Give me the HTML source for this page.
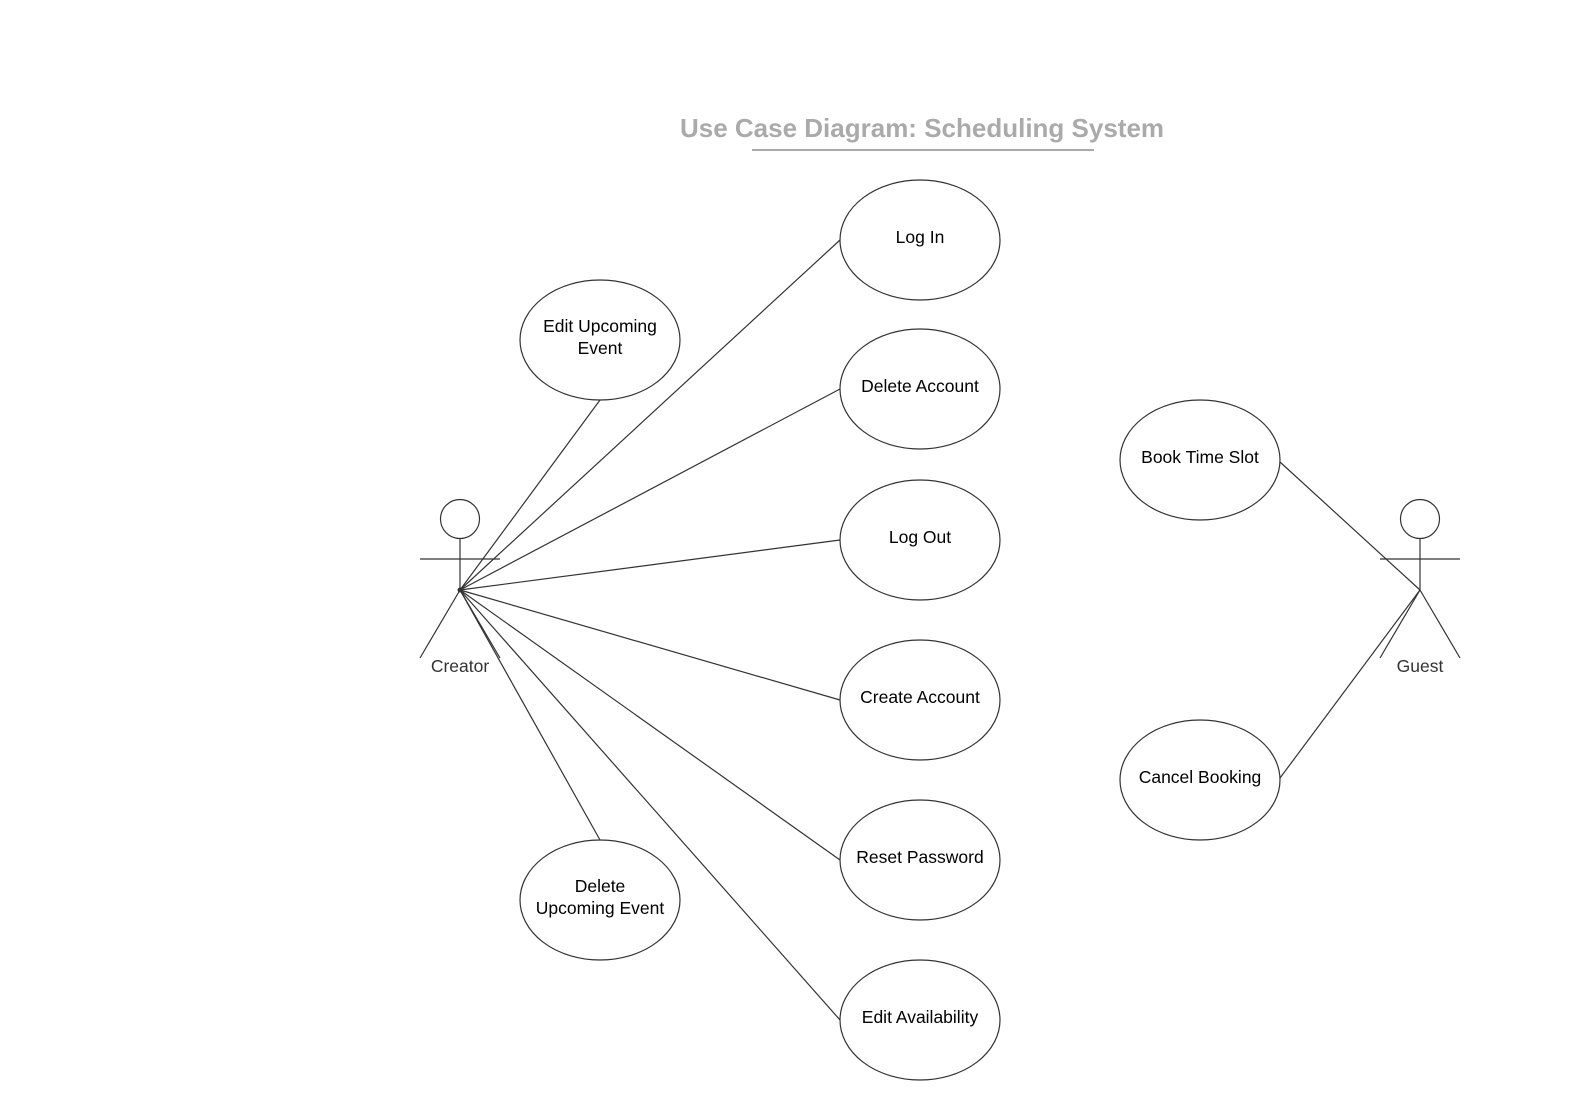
<!DOCTYPE html>
<html><head><meta charset="utf-8"><style>
html,body{margin:0;padding:0;background:#fff;}
svg{display:block;}
text{font-family:"Liberation Sans",Arial,sans-serif;}
</style></head><body>
<svg width="1580" height="1120" viewBox="0 0 1580 1120" xmlns="http://www.w3.org/2000/svg">
<rect width="1580" height="1120" fill="#fff"/>
<text x="922" y="137" text-anchor="middle" font-size="26" font-weight="bold" fill="#aaaaaa">Use Case Diagram: Scheduling System</text>
<line x1="752" y1="150" x2="1094" y2="150" stroke="#aaaaaa" stroke-width="2"/>
<g stroke="#333" stroke-width="1.2" fill="none">
<line x1="460" y1="590" x2="840" y2="240"/>
<line x1="460" y1="590" x2="840" y2="389"/>
<line x1="460" y1="590" x2="840" y2="540"/>
<line x1="460" y1="590" x2="840" y2="700"/>
<line x1="460" y1="590" x2="840" y2="860"/>
<line x1="460" y1="590" x2="840" y2="1020"/>
<line x1="460" y1="590" x2="600" y2="400"/>
<line x1="460" y1="590" x2="600" y2="840"/>
<line x1="1280" y1="462" x2="1420" y2="590"/>
<line x1="1280" y1="778" x2="1420" y2="590"/>
<circle cx="460" cy="519" r="19.5"/>
<line x1="460" y1="539" x2="460" y2="590"/>
<line x1="420" y1="559" x2="500" y2="559"/>
<line x1="460" y1="590" x2="420" y2="658"/>
<line x1="460" y1="590" x2="500" y2="658"/>
<circle cx="1420" cy="519" r="19.5"/>
<line x1="1420" y1="539" x2="1420" y2="590"/>
<line x1="1380" y1="559" x2="1460" y2="559"/>
<line x1="1420" y1="590" x2="1380" y2="658"/>
<line x1="1420" y1="590" x2="1460" y2="658"/>
</g>
<circle cx="460" cy="590" r="2.5" fill="#333"/>
<g fill="#fff" stroke="#333" stroke-width="1.2">
<ellipse cx="920" cy="240" rx="80" ry="60"/>
<ellipse cx="920" cy="389" rx="80" ry="60"/>
<ellipse cx="920" cy="540" rx="80" ry="60"/>
<ellipse cx="920" cy="700" rx="80" ry="60"/>
<ellipse cx="920" cy="860" rx="80" ry="60"/>
<ellipse cx="920" cy="1020" rx="80" ry="60"/>
<ellipse cx="600" cy="340" rx="80" ry="60"/>
<ellipse cx="600" cy="900" rx="80" ry="60"/>
<ellipse cx="1200" cy="460" rx="80" ry="60"/>
<ellipse cx="1200" cy="780" rx="80" ry="60"/>
</g>
<g font-size="17.5" fill="#000" text-anchor="middle">
<text x="920" y="243">Log In</text>
<text x="920" y="392">Delete Account</text>
<text x="920" y="543">Log Out</text>
<text x="920" y="703">Create Account</text>
<text x="920" y="863">Reset Password</text>
<text x="920" y="1023">Edit Availability</text>
<text x="600" y="332">Edit Upcoming</text>
<text x="600" y="354">Event</text>
<text x="600" y="892">Delete</text>
<text x="600" y="914">Upcoming Event</text>
<text x="1200" y="463">Book Time Slot</text>
<text x="1200" y="783">Cancel Booking</text>
</g>
<g font-size="17.5" fill="#333" text-anchor="middle">
<text x="460" y="672">Creator</text>
<text x="1420" y="672">Guest</text>
</g>
</svg>
</body></html>
